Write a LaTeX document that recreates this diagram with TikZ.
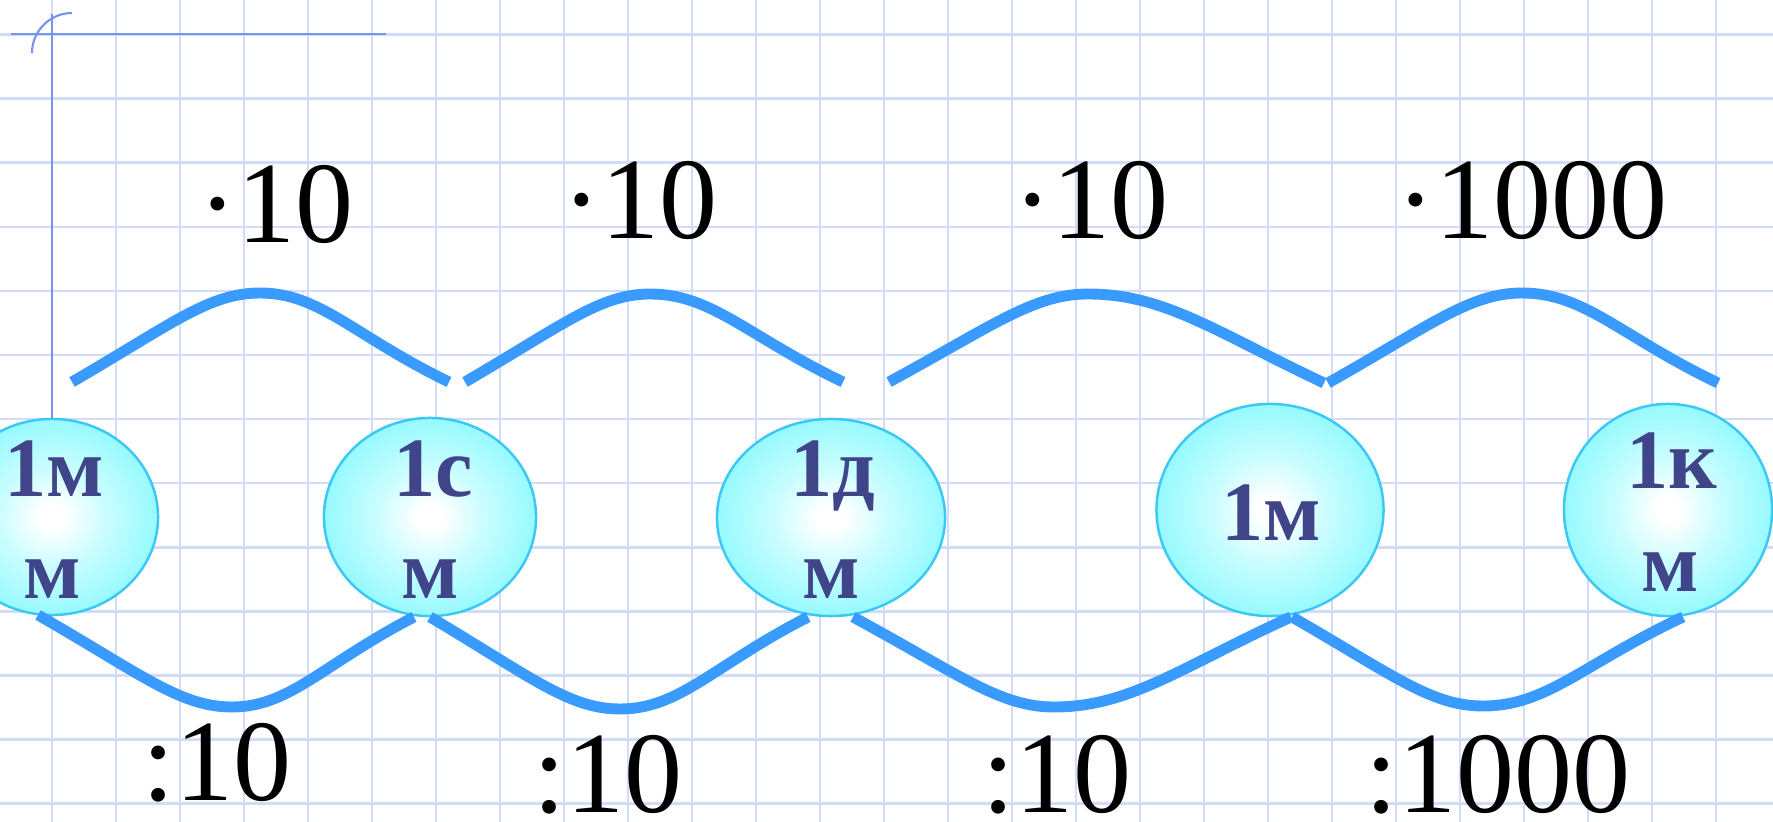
\documentclass[tikz,border=0pt]{standalone}
\usepackage{fontspec}
\setmainfont{Liberation Serif}
\usetikzlibrary{shapes.geometric}
\definecolor{gridc}{RGB}{210,220,250}
\definecolor{axisc}{RGB}{120,146,240}
\definecolor{curvec}{RGB}{57,155,255}
\definecolor{cedge}{RGB}{150,250,255}
\definecolor{cmid}{RGB}{200,253,255}
\definecolor{cborder}{RGB}{60,200,245}
\definecolor{ntext}{RGB}{64,68,136}
\pgfdeclareradialshading{ballshade}{\pgfpoint{0bp}{0bp}}{color(0bp)=(white); color(3bp)=(white); color(13bp)=(cmid); color(25bp)=(cedge); color(50bp)=(cedge)}
\begin{document}
\begin{tikzpicture}[x=0.01cm,y=-0.01cm,
  gridline/.style={draw=gridc, line width=0.7pt},
  axisline/.style={draw=axisc, line width=0.6pt},
  unit/.style={ellipse, draw=cborder, line width=0.7pt, shade, shading=ballshade, inner sep=0pt},
  utext/.style={anchor=base, inner sep=0pt, text=ntext, font=\bfseries\fontsize{24}{29}\selectfont},
  factor/.style={anchor=base, inner sep=0pt, font=\fontsize{33}{40}\selectfont},
  arcline/.style={draw=curvec, line width=3.1pt}]
\useasboundingbox (0,0) rectangle (1773,822);
\fill[white] (0,0) rectangle (1773,822);
% grid
\foreach \k in {0,...,26} \draw[gridline] ({52+64*\k},0) -- ({52+64*\k},822);
\foreach \k in {0,...,12} \draw[gridline] (0,{34.5+64.1*\k}) -- (1773,{34.5+64.1*\k});
% ellipses
\node[unit, minimum width=2.12cm, minimum height=1.96cm] (n1) at (52,517) {};
\node[unit, minimum width=2.12cm, minimum height=1.98cm] (n2) at (430,517) {};
\node[unit, minimum width=2.28cm, minimum height=1.97cm] (n3) at (831,517.5) {};
\node[unit, minimum width=2.27cm, minimum height=2.12cm] (n4) at (1270,510) {};
\node[unit, minimum width=2.08cm, minimum height=2.12cm] (n5) at (1668,510) {};
% axes
\coordinate (ax0) at (52,14);
\coordinate (hx0) at (11,34);
\coordinate (hx1) at (386,34);
\coordinate (arc0) at (32,53);
\coordinate (arc1) at (72,13);
\draw[axisline] (ax0) -- (n1.north);
\draw[axisline] (hx0) -- (hx1);
\draw[axisline] (arc0) .. controls (32,31) and (50,13) .. (arc1);
% node texts
\node[utext] (t1a) at (54,497) {1м};
\node[utext] (t1b) at (52,599) {м};
\node[utext] (t2a) at (433,497) {1с};
\node[utext] (t2b) at (430,599) {м};
\node[utext] (t3a) at (833,497) {1д};
\node[utext] (t3b) at (831,599) {м};
\node[utext] (t4a) at (1271,541) {1м};
\node[utext] (t5a) at (1672,489) {1к};
\node[utext] (t5b) at (1670,592) {м};
% top arcs
\coordinate (u1s) at (72,382);  \coordinate (u1p) at (260,293);  \coordinate (u1e) at (449,382);
\coordinate (u2s) at (465,382); \coordinate (u2p) at (650,294);  \coordinate (u2e) at (843,382);
\coordinate (u3s) at (889,382); \coordinate (u3p) at (1088,294); \coordinate (u3e) at (1324,383);
\coordinate (u4s) at (1328,383);\coordinate (u4p) at (1522,293); \coordinate (u4e) at (1718,383);
\draw[arcline] (u1s) .. controls (172,324) and (209,293) .. (u1p) .. controls (320,293) and (354,336) .. (u1e);
\draw[arcline] (u2s) .. controls (563,325) and (600,294) .. (u2p) .. controls (712,294) and (747,336) .. (u2e);
\draw[arcline] (u3s) .. controls (994,325) and (1034,294) .. (u3p) .. controls (1164,294) and (1214,331) .. (u3e);
\draw[arcline] (u4s) .. controls (1431,325) and (1470,293) .. (u4p) .. controls (1585,293) and (1620,336) .. (u4e);
% bottom arcs
\coordinate (d1s) at (38,615);  \coordinate (d1p) at (232,707);  \coordinate (d1e) at (414,617);
\coordinate (d2s) at (430,617); \coordinate (d2p) at (620,709);  \coordinate (d2e) at (808,617);
\coordinate (d3s) at (853,617); \coordinate (d3p) at (1054,707); \coordinate (d3e) at (1291,617);
\coordinate (d4s) at (1292,617);\coordinate (d4p) at (1483,706); \coordinate (d4e) at (1683,617);
\draw[arcline] (d1s) .. controls (141,674) and (180,707) .. (d1p) .. controls (290,707) and (323,664) .. (d1e);
\draw[arcline] (d2s) .. controls (531,677) and (569,709) .. (d2p) .. controls (680,709) and (714,665) .. (d2e);
\draw[arcline] (d3s) .. controls (960,675) and (1000,707) .. (d3p) .. controls (1130,707) and (1181,667) .. (d3e);
\draw[arcline] (d4s) .. controls (1393,675) and (1431,706) .. (d4p) .. controls (1547,706) and (1583,664) .. (d4e);
% factor labels
\node[factor] (m1) at (276,243) {·10};
\node[factor] (m2) at (640,239) {·10};
\node[factor] (m3) at (1091,239) {·10};
\node[factor] (m4) at (1532,239) {·1000};
\node[factor] (q1) at (217,800) {:10};
\node[factor] (q2) at (608,812) {:10};
\node[factor] (q3) at (1057,812) {:10};
\node[factor] (q4) at (1498,812) {:1000};
\end{tikzpicture}
\end{document}
